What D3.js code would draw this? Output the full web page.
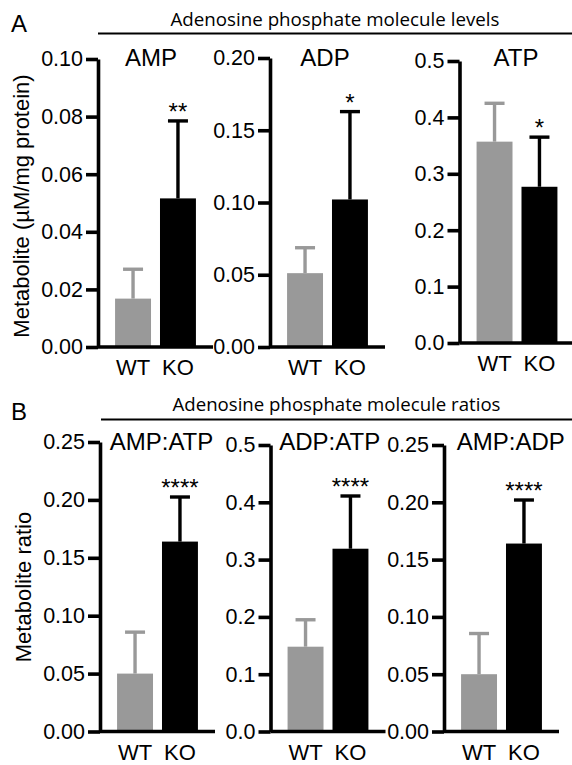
<!DOCTYPE html>
<html>
<head>
<meta charset="utf-8">
<script src="https://cdn.jsdelivr.net/npm/d3@7"></script>
<style>
  body { margin: 0; background: #fff; }
  svg { display: block; }
</style>
</head>
<body>
<div id="container"></div>
<script>
// ---- data ----
const groups = ['WT', 'KO']

const levelNames = ['AMP', 'ADP', 'ATP']
const levelMeans = [[0.0168, 0.0516], [0.0511, 0.1021], [0.357, 0.277]]
const levelErrors = [[0.0102, 0.0269], [0.0176, 0.0608], [0.068, 0.088]]
const levelStars = ['**', '*', '*']
const levelTicks = [
    [0, 0.02, 0.04, 0.06, 0.08, 0.10],
    [0, 0.05, 0.10, 0.15, 0.20],
    [0, 0.1, 0.2, 0.3, 0.4, 0.5]
]

const ratioNames = ['AMP:ATP', 'ADP:ATP', 'AMP:ADP']
const ratioMeans = [[0.050, 0.164], [0.148, 0.319], [0.050, 0.164]]
const ratioErrors = [[0.0358, 0.0385], [0.047, 0.092], [0.0355, 0.038]]
const ratioStars = ['****', '****', '****']
const ratioTicks = [
    [0, 0.05, 0.10, 0.15, 0.20, 0.25],
    [0, 0.1, 0.2, 0.3, 0.4, 0.5],
    [0, 0.05, 0.10, 0.15, 0.20, 0.25]
]

// ---- layout ----
const width = 572, height = 765
const font = '"Liberation Sans", Arial, sans-serif'
const headFont = '"Open Sans", "Noto Sans", sans-serif'
const colors = ['#999999', '#000000']
const plotW = 115

const levelLayout = [
    { x: 98, top: 59, bottom: 347, title: 151 },
    { x: 270, top: 58, bottom: 347, title: 325 },
    { x: 459.5, top: 61, bottom: 343, title: 516 }
]
const ratioLayout = [
    { x: 100, top: 442, bottom: 731.5, title: 161.5 },
    { x: 270.5, top: 445, bottom: 731.5, title: 329.7 },
    { x: 444, top: 445, bottom: 731.5, title: 510.8 }
]

const svg = d3.select('#container')
    .append('svg').attr('width', width).attr('height', height)

const drawPanel = (p, lay, titleY, titleSize) => {
    const x = d3.scaleBand().domain(groups)
        .range([lay.x, lay.x + plotW]).paddingInner(0.2).paddingOuter(0.38)
    const y = d3.scaleLinear().domain([0, d3.max(p.ticks)]).range([lay.bottom, lay.top])
    const fmt = d3.format('.' + d3.precisionFixed(p.ticks[1] - p.ticks[0]) + 'f')
    const rows = groups.map((g, i) => ({ g, i, mean: p.means[i], err: p.errors[i] }))
    const cx = d => x(d.g) + x.bandwidth() / 2

    svg.append('g').selectAll('rect').data(rows).join('rect')
        .attr('x', d => x(d.g))
        .attr('width', x.bandwidth())
        .attr('y', d => y(d.mean))
        .attr('height', d => y(0) - y(d.mean))
        .attr('fill', d => colors[d.i])

    // error bars (upper only)
    const eb = svg.append('g').selectAll('g').data(rows).join('g')
        .attr('stroke', d => colors[d.i]).attr('stroke-width', 3.4)
    eb.append('line')
        .attr('x1', cx).attr('x2', cx)
        .attr('y1', d => y(d.mean)).attr('y2', d => y(d.mean + d.err))
    eb.append('line')
        .attr('x1', d => cx(d) - 10).attr('x2', d => cx(d) + 10)
        .attr('y1', d => y(d.mean + d.err)).attr('y2', d => y(d.mean + d.err))

    // significance stars over KO
    const ko = rows[1]
    svg.append('text')
        .attr('x', cx(ko))
        .attr('y', y(ko.mean + ko.err) - 1)
        .attr('text-anchor', 'middle')
        .attr('font-family', font).attr('font-size', 24)
        .text(p.stars)

    // y axis
    const yAxis = d3.axisLeft(y).tickValues(p.ticks).tickFormat(fmt)
        .tickSize(12).tickSizeOuter(0).tickPadding(3)
    const ag = svg.append('g').attr('transform', `translate(${lay.x},0)`).call(yAxis)
    ag.attr('font-family', font).attr('font-size', 21.5)
    ag.selectAll('path, line').attr('stroke', '#000').attr('stroke-width', 3.6)
    ag.selectAll('text').attr('fill', '#000')

    // x axis baseline
    svg.append('line')
        .attr('x1', lay.x).attr('x2', lay.x + plotW)
        .attr('y1', y(0)).attr('y2', y(0))
        .attr('stroke', '#000').attr('stroke-width', 3.6)

    svg.append('g').selectAll('text').data(groups).join('text')
        .attr('x', d => x(d) + x.bandwidth() / 2)
        .attr('y', y(0) + 28)
        .attr('text-anchor', 'middle')
        .attr('font-family', font).attr('font-size', 22)
        .text(d => d)

    svg.append('text')
        .attr('x', lay.title).attr('y', titleY)
        .attr('text-anchor', 'middle')
        .attr('font-family', font).attr('font-size', titleSize)
        .text(p.name)
}

const drawHeader = (letter, label, letterY, textY, lineY, lineX, textW) => {
    svg.append('text').attr('x', 11).attr('y', letterY)
        .attr('font-family', font).attr('font-size', 24).text(letter)
    svg.append('text').attr('x', (lineX + width) / 2).attr('y', textY)
        .attr('text-anchor', 'middle')
        .attr('font-family', headFont).attr('font-size', 18)
        .attr('textLength', textW).attr('lengthAdjust', 'spacingAndGlyphs')
        .text(label)
    svg.append('line').attr('x1', lineX).attr('x2', width)
        .attr('y1', lineY).attr('y2', lineY)
        .attr('stroke', '#000').attr('stroke-width', 2)
}

const yLabel = (label, cx, cy) => {
    svg.append('text')
        .attr('transform', `translate(${cx},${cy}) rotate(-90)`)
        .attr('text-anchor', 'middle')
        .attr('font-family', font).attr('font-size', 22)
        .text(label)
}

drawHeader('A', 'Adenosine phosphate molecule levels', 32, 26, 33.5, 98, 329)
drawHeader('B', 'Adenosine phosphate molecule ratios', 420, 411, 419.5, 101, 328)

levelNames.forEach((name, i) => drawPanel(
    { name, means: levelMeans[i], errors: levelErrors[i], stars: levelStars[i], ticks: levelTicks[i] },
    levelLayout[i], 66, 24))
ratioNames.forEach((name, i) => drawPanel(
    { name, means: ratioMeans[i], errors: ratioErrors[i], stars: ratioStars[i], ticks: ratioTicks[i] },
    ratioLayout[i], 450, 24))

yLabel('Metabolite (\u00b5M/mg protein)', 29, 206)
yLabel('Metabolite ratio', 31, 587)
</script>
</body>
</html>
